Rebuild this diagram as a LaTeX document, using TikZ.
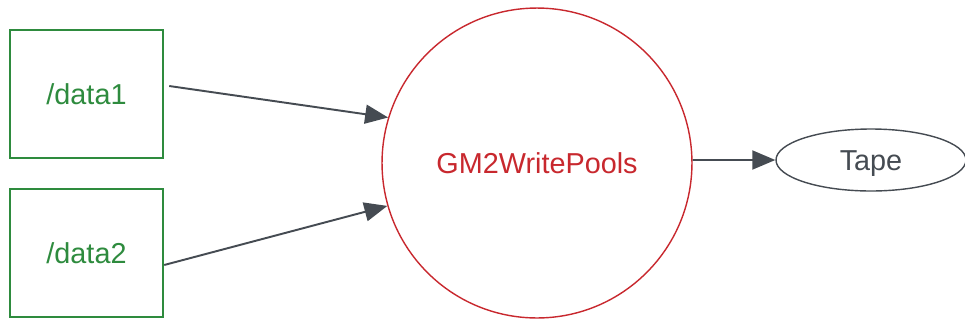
\documentclass[tikz,border=0pt]{standalone}
\usepackage{fontspec}
\setmainfont{Liberation Sans}
\usepackage{tikz}
\usetikzlibrary{arrows.meta,shapes}
\definecolor{srcgreen}{HTML}{2E8B3E}
\definecolor{modred}{HTML}{C8282E}
\definecolor{linkgray}{HTML}{454B52}
\tikzset{>={Triangle[length=4.6mm,width=3.8mm]}}
\tikzstyle{label text}=[font=\fontsize{16.4}{19}\selectfont,text height=11.7pt,text depth=0pt]
\tikzstyle{source}=[rectangle,draw=srcgreen,line width=1.4pt,text=srcgreen,inner sep=0pt,minimum width=3.06cm,minimum height=2.56cm,label text]
\tikzstyle{module}=[circle,draw=modred,line width=0.8pt,text=modred,inner sep=0pt,minimum size=6.2cm,label text]
\tikzstyle{sink}=[ellipse,draw=linkgray,line width=0.8pt,text=linkgray,inner sep=0pt,minimum width=3.8cm,minimum height=1.24cm,label text]
\tikzstyle{link}=[->,draw=linkgray,fill=linkgray,line width=1.1pt]

\begin{document}
\begin{tikzpicture}[x=0.02cm,y=-0.02cm]
	\useasboundingbox (0,0) rectangle (965,322);
	\node[source] (data1) at (86.5, 94) {/data1};
	\node[source] (data2) at (86.5, 253) {/data2};
	\node[module] (pools) at (537, 163) {GM2WritePools};
	\node[sink] (tape) at (871, 160) {Tape};
	
	\draw[link] ([xshift=0.1cm,yshift=0.16cm]data1.east) -- (pools.163.5);
	\draw[link] ([yshift=-0.24cm]data2.east) -- (pools.196.5);
	\draw[link] ([yshift=0.06cm]pools.east) -- (tape.west);
\end{tikzpicture}
\end{document}
